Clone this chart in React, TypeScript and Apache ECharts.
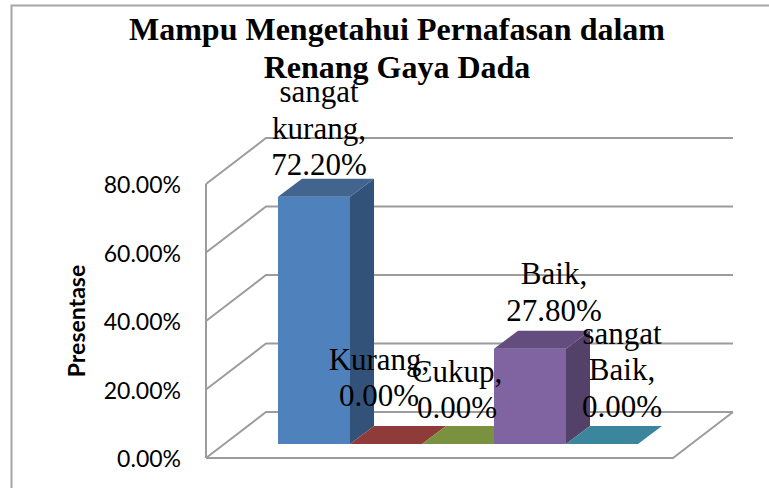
import React, { useEffect, useRef } from "react";
import * as echarts from "echarts";

const categories = ["sangat kurang", "Kurang", "Cukup", "Baik", "sangat Baik"];
const values = [72.2, 0, 0, 27.8, 0];
const labelLines = [
  "sangat\nkurang,\n72.20%",
  "Kurang,\n0.00%",
  "Cukup,\n0.00%",
  "Baik,\n27.80%",
  "sangat\nBaik,\n0.00%",
];
const labelOffsetX = [5, -7, -1, 24, 20];
const labelOffsetY = [-68.5, -66.5, -54.5, -56.8, -74.5];
const frontColors = ["#4F81BD", "#C0504D", "#9BBB59", "#8064A2", "#4BACC6"];
const sideColors = ["#33527A", "#7A3331", "#637A38", "#534169", "#2F7285"];
const topColors = ["#41658F", "#8E3B3A", "#7A9140", "#624D7E", "#3B869C"];
const yTicks = [0, 20, 40, 60, 80];
const GRID = "#9C9C9C";
const WALL_DX = 60;
const WALL_DY = 46;
const BAR_DX = 24;
const BAR_DY = 18;

function renderWall(params: any, api: any) {
  const v = api.value(0);
  const cs = params.coordSys;
  const y = api.coord([categories[0], v])[1];
  const x0 = cs.x;
  const x1 = cs.x + cs.width;
  const s = { stroke: GRID, lineWidth: 2, fill: "none" };
  const children: any[] = [
    { type: "polyline", shape: { points: [[x0, y], [x0 + WALL_DX, y - WALL_DY], [x1 + WALL_DX, y - WALL_DY]] }, style: s },
  ];
  if (v === 0) {
    children.push({ type: "polyline", shape: { points: [[x0, y], [x1, y], [x1 + WALL_DX, y - WALL_DY]] }, style: s });
    children.push({ type: "line", shape: { x1: x0, y1: y, x2: x0, y2: cs.y }, style: s });
  }
  return { type: "group", children };
}

function renderBar(params: any, api: any) {
  const i = params.dataIndex;
  const top = api.coord([i, api.value(1)]);
  const base = api.coord([i, 0]);
  const w = api.size([1, 0])[0];
  const l = top[0] - w / 2;
  const r = top[0] + w / 2;
  const yt = top[1];
  const yb = base[1];
  const children: any[] = [];
  if (yb - yt > 0.5) {
    children.push({ type: "rect", shape: { x: l, y: yt, width: w, height: yb - yt }, style: { fill: frontColors[i] } });
    children.push({
      type: "polygon",
      shape: { points: [[r, yt], [r + BAR_DX, yt - BAR_DY], [r + BAR_DX, yb - BAR_DY], [r, yb]] },
      style: { fill: sideColors[i] },
    });
  }
  children.push({
    type: "polygon",
    shape: { points: [[l, yt], [l + BAR_DX, yt - BAR_DY], [r + BAR_DX, yt - BAR_DY], [r, yt]] },
    style: { fill: topColors[i] },
  });
  return { type: "group", children };
}

function renderLabel(params: any, api: any) {
  const i = params.dataIndex;
  const top = api.coord([i, api.value(1)]);
  return {
    type: "text",
    x: top[0] + labelOffsetX[i],
    y: top[1] + labelOffsetY[i],
    style: {
      text: labelLines[i],
      fontFamily: "Liberation Serif",
      fontSize: 31,
      lineHeight: 36.5,
      fill: "#000",
      align: "center",
      verticalAlign: "middle",
    },
  };
}

export default function App() {
  const ref = useRef<HTMLDivElement>(null);
  useEffect(() => {
    document.body.style.margin = "0";
    const chart = echarts.init(ref.current!, null, { renderer: "svg" });
    chart.setOption({
      animation: false,
      backgroundColor: "#fff",
      title: {
        text: "Mampu Mengetahui Pernafasan dalam\nRenang Gaya Dada",
        left: 392,
        top: 5,
        textAlign: "center",
        textStyle: {
          fontFamily: "Liberation Serif",
          fontWeight: "bold",
          fontSize: 32,
          lineHeight: 38,
          color: "#000",
        },
      },
      graphic: [
        {
          type: "polyline",
          shape: { points: [[11.5, 488], [11.5, 5.5], [769, 5.5]] },
          style: { stroke: "#A6A6A6", lineWidth: 2, fill: "none" },
        },
      ],
      grid: [
        { left: 206, top: 184, width: 467, height: 274 },
        { left: 278, top: 170, width: 360, height: 274 },
      ],
      xAxis: [
        { type: "category", gridIndex: 0, data: categories, show: false },
        { type: "category", gridIndex: 1, data: categories, show: false },
      ],
      yAxis: [
        {
          type: "value",
          gridIndex: 0,
          min: 0,
          max: 80,
          interval: 20,
          name: "Presentase",
          nameLocation: "middle",
          nameRotate: 90,
          nameGap: 119,
          nameTextStyle: { fontFamily: "Lato", fontWeight: "bold", fontSize: 23, color: "#000" },
          axisLine: { show: false },
          axisTick: { show: false },
          splitLine: { show: false },
          axisLabel: {
            margin: 25,
            fontFamily: "Lato",
            fontSize: 23,
            color: "#000",
            formatter: (v: number) => v.toFixed(2) + "%",
          },
        },
        {
          type: "value",
          gridIndex: 1,
          min: 0,
          max: 80,
          interval: 20,
          show: false,
          splitLine: { show: false },
        },
      ],
      series: [
        {
          type: "custom",
          xAxisIndex: 0,
          yAxisIndex: 0,
          z: 1,
          silent: true,
          renderItem: renderWall,
          data: yTicks.map((v) => [v]),
          encode: { y: 0 },
        },
        {
          type: "custom",
          xAxisIndex: 1,
          yAxisIndex: 1,
          z: 2,
          renderItem: renderBar,
          data: values.map((v, i) => [i, v]),
        },
        {
          type: "custom",
          xAxisIndex: 1,
          yAxisIndex: 1,
          z: 3,
          renderItem: renderLabel,
          data: values.map((v, i) => [i, v]),
        },
      ],
    });
    return () => chart.dispose();
  }, []);
  return <div ref={ref} style={{ position: "absolute", left: 0, top: 0, width: 769, height: 488 }} />;
}
